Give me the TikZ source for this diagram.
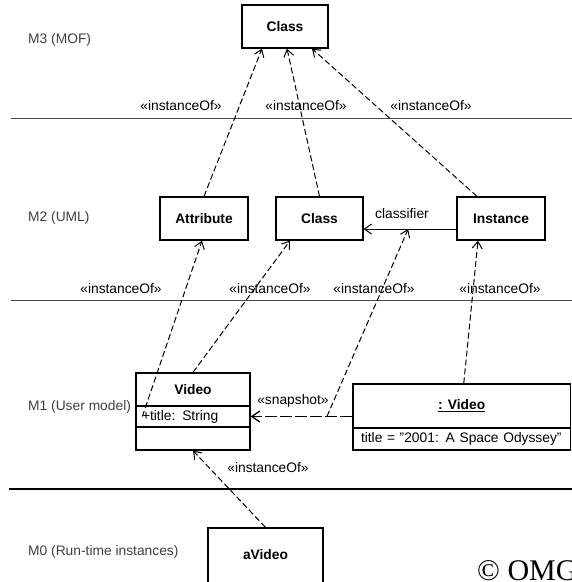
\documentclass[tikz,border=0pt]{standalone}
\usepackage{fontspec}
\setmainfont{Liberation Sans}
\newfontfamily\omgfont{Liberation Serif}
\usetikzlibrary{arrows.meta,shadows}

\newcommand\diagsize{\fontsize{13.8}{16}\selectfont}

\tikzset{
  umlbox/.style={draw, line width=1.3pt, fill=white, inner sep=0pt, font=\diagsize\bfseries},
  shadowbox/.style={umlbox, drop shadow={shadow xshift=1.2pt, shadow yshift=-1.2pt, fill=black, opacity=1}},
  compartment/.style={draw, line width=1.3pt, fill=white, inner sep=0pt},
  layer/.style={anchor=west, inner sep=0pt, text=black!75},
  instof/.style={line width=1pt, dash pattern=on 6pt off 3pt, -{Straight Barb[length=7pt,width=10pt]}},
  assoc/.style={line width=1pt, -{Straight Barb[length=7pt,width=10pt]}},
  snapline/.style={line width=1.3pt, dash pattern=on 12pt off 3pt, -{Straight Barb[length=8pt,width=11pt]}},
  rule/.style={draw=black!70, line width=0.9pt}
}

\begin{document}
\begin{tikzpicture}[x=1pt, y=-1pt, font=\diagsize]
  \useasboundingbox (0,0) rectangle (572,582);

  % meta levels
  \draw[rule] (11,118) -- (572,118);
  \draw[rule] (11,300) -- (572,300);
  \draw[line width=2.5pt] (9,489) -- (572,489);
  \node[layer] (m3) at (28,40) {M3 (MOF)};
  \node[layer] (m2) at (28,218) {M2 (UML)};
  \node[layer] (m1) at (28,407) {M1 (User model)};
  \node[layer] (m0) at (28,552) {M0 (Run-time instances)};

  % M3 and M2
  \node[shadowbox, minimum width=86pt, minimum height=43pt] (mofclass) at (285,26.5) {Class};
  \node[shadowbox, minimum width=88pt, minimum height=43pt] (attr) at (204,218.5) {Attribute};
  \node[shadowbox, minimum width=87pt, minimum height=43pt] (umlclass) at (319.5,218.5) {Class};
  \node[shadowbox, minimum width=88pt, minimum height=43pt] (instance) at (501,218.5) {Instance};

  % M1
  \node[compartment, minimum width=114pt, minimum height=33pt, font=\diagsize\bfseries] (videoname) at (193,389.5) {Video};
  \node[compartment, minimum width=114pt, minimum height=21pt, text width=102pt, inner xsep=6pt, align=left] (videoattr) at (193,416.5) {+title: String};
  \node[compartment, minimum width=114pt, minimum height=23pt] (videoops) at (193,438.5) {};
  \node[compartment, minimum width=217.5pt, minimum height=44pt, font=\diagsize\bfseries] (objname) at (461.75,406) {\underline{: Video}};
  \node[compartment, minimum width=217.5pt, minimum height=22pt, text width=201.5pt, inner xsep=8pt, align=left] (objattr) at (461.75,439) {title = "2001: A Space Odyssey"};

  % M0
  \node[umlbox, minimum width=115pt, text height=10pt, text depth=40pt, inner ysep=21pt, anchor=base] (avideo) at (265.5,559) {aVideo};

  % links
  \draw[assoc] ([yshift=-10.5pt]instance.west) -- coordinate[pos=0.52] (clsf) ([yshift=-10.5pt]umlclass.east);
  \draw[snapline] (objname.west |- videoattr.east) -- coordinate[pos=0.25] (snp) (videoattr.east);
  \draw[instof] (attr.north) -- ([xshift=-23pt]mofclass.south);
  \draw[instof] (umlclass.north) -- ([xshift=2pt]mofclass.south);
  \draw[instof] ([xshift=-24pt]instance.north) -- ([xshift=27pt]mofclass.south);
  \draw[instof] ([xshift=7pt]videoattr.west) -- ([xshift=-2pt]attr.south);
  \draw[instof] (videoname.north) -- ([xshift=-29.5pt]umlclass.south);
  \draw[instof] (snp) -- (clsf);
  \draw[instof] ([xshift=2pt]objname.north) -- ([xshift=-23pt]instance.south);
  \draw[instof] (avideo.north) -- (videoops.south);

  % labels
  \node (lbl31) at (181,106) {«instanceOf»};
  \node (lbl32) at (306,106) {«instanceOf»};
  \node (lbl33) at (431,106) {«instanceOf»};
  \node (lbl21) at (121,289) {«instanceOf»};
  \node (lbl22) at (270,289) {«instanceOf»};
  \node (lbl23) at (374,289) {«instanceOf»};
  \node (lbl24) at (500,289) {«instanceOf»};
  \node (lbl10) at (268,468) {«instanceOf»};
  \node (clsflbl) at (402,214) {classifier};
  \node (snaplbl) at (293,401) {«snapshot»};
  \node[anchor=base west, inner sep=0pt, font=\omgfont\fontsize{30}{34}\selectfont] (omg) at (477,580) {© OMG};
\end{tikzpicture}
\end{document}
